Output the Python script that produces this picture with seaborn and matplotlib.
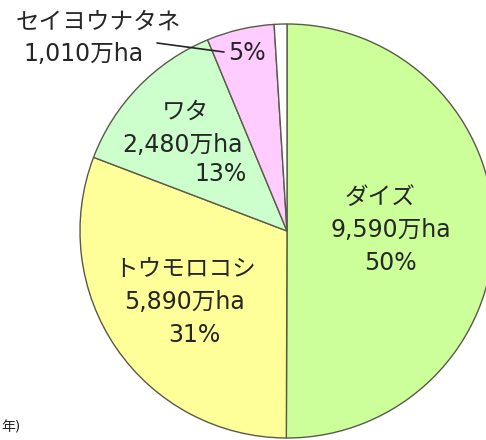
import numpy as np
import matplotlib.pyplot as plt
import seaborn as sns

# 作物別の作付面積（万ha）
crops = ["ダイズ", "トウモロコシ", "ワタ", "セイヨウナタネ", "その他"]
areas = [9590, 5890, 2480, 1010, 190]
area_labels = ["9,590万ha", "5,890万ha", "2,480万ha", "1,010万ha", ""]
pct_labels = ["50%", "31%", "13%", "5%", ""]
colors = ["#ccff99", "#ffff99", "#ccffcc", "#ffccff", "#ffffff"]

sns.set_theme(style="white")
plt.rcParams['font.family'] = ['DejaVu Sans', 'Noto Sans CJK JP']

W, H = 486, 440
fig = plt.figure(figsize=(W / 100, H / 100), dpi=100)

# 円の中心 (287,231)px 半径 207px
cx, cy, r = 287, 231, 207
ax = fig.add_axes([(cx - r) / W, (H - cy - r) / H, 2 * r / W, 2 * r / H])
ax.pie(areas, colors=colors, startangle=90, counterclock=False, radius=1,
       wedgeprops=dict(edgecolor="#5a5a4a", linewidth=1.0))
ax.set_xlim(-1, 1)
ax.set_ylim(-1, 1)
ax.set_aspect("equal")
ax.axis("off")


def px(x, y):
    return (x - cx) / r, (cy - y) / r


fs = 17
txt = dict(fontsize=fs, color="#262626", ha="center", va="center", clip_on=False)

# ダイズ
ax.text(*px(380, 197), crops[0], **txt)
ax.text(*px(391, 230), area_labels[0], **txt)
ax.text(*px(390, 263), pct_labels[0], **txt)
# トウモロコシ
ax.text(*px(185, 269), crops[1], **txt)
ax.text(*px(185, 302), area_labels[1], **txt)
ax.text(*px(194, 335), pct_labels[1], **txt)
# ワタ
ax.text(*px(185, 112), crops[2], **txt)
ax.text(*px(183, 145), area_labels[2], **txt)
ax.text(*px(221, 174), pct_labels[2], **txt)
# セイヨウナタネ
ax.text(*px(98, 22), crops[3], **txt)
ax.text(*px(84, 54), area_labels[3], **txt)
ax.text(*px(247, 53), pct_labels[3], **txt)
x0, y0 = px(157, 43)
x1, y1 = px(224, 52)
ax.plot([x0, x1], [y0, y1], color="#262626", lw=1.2, clip_on=False)

fig.text(1 / W, 1 - 427 / H, "年)", fontsize=10, color="#262626",
         ha="left", va="center")

fig.savefig("out.png", dpi=100)
